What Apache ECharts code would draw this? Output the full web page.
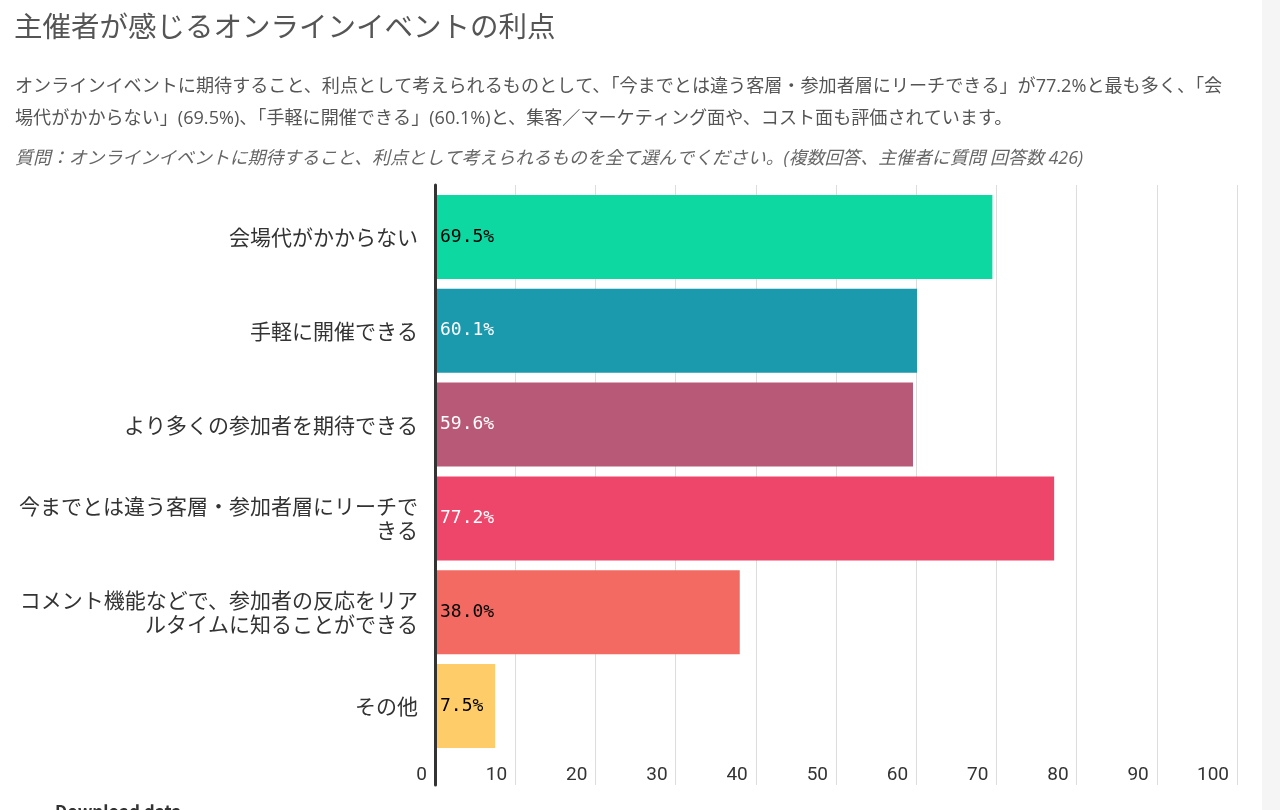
<!DOCTYPE html>
<html><head><meta charset="utf-8">
<script src="https://cdn.jsdelivr.net/npm/echarts@6/dist/echarts.min.js"></script>
<style>html,body{margin:0;padding:0;background:#fff}#c{width:1280px;height:810px}</style>
</head><body><div id="c"></div>
<script>
const titleText = '主催者が感じるオンラインイベントの利点';
const descLines = [
  'オンラインイベントに期待すること、利点として考えられるものとして、「今までとは違う客層・参加者層にリーチできる」が77.2%と最も多く、「会',
  '場代がかからない」(69.5%)、「手軽に開催できる」(60.1%)と、集客／マーケティング面や、コスト面も評価されています。'
];
const noteText = '質問：オンラインイベントに期待すること、利点として考えられるものを全て選んでください。(複数回答、主催者に質問 回答数 426)';
const footerText = 'Download data';
const categories = [
  '会場代がかからない',
  '手軽に開催できる',
  'より多くの参加者を期待できる',
  '今までとは違う客層・参加者層にリーチで\nきる',
  'コメント機能などで、参加者の反応をリア\nルタイムに知ることができる',
  'その他'
];
const values = [69.5, 60.1, 59.6, 77.2, 38.0, 7.5];
const barColors = ['#0ed8a1', '#1b99ad', '#b85a77', '#ee456b', '#f36a63', '#fecd69'];
const labelColors = ['#000000', '#ffffff', '#ffffff', '#ffffff', '#000000', '#000000'];
const axisMin = 0, axisMax = 100, axisStep = 10;

const chart = echarts.init(document.getElementById('c'));
const jp = '"Noto Sans CJK JP", "Noto Sans", sans-serif';
const jpLatin = '"Open Sans", "Noto Sans CJK JP", sans-serif';
chart.setOption({
  animation: false,
  backgroundColor: '#ffffff',
  title: [
    { text: titleText, left: 14, top: 12, padding: 0, textStyle: { fontFamily: jp, fontSize: 28.5, fontWeight: 'normal', color: '#555' } },
    { text: descLines.join('\n'), left: 15, top: 71, padding: 0, textStyle: { fontFamily: jpLatin, fontSize: 18.1, fontWeight: 'normal', color: '#555', lineHeight: 32 } },
    { text: noteText, left: 15, top: 150, padding: 0, textStyle: { fontFamily: jpLatin, fontSize: 17.9, fontStyle: 'italic', fontWeight: 'normal', color: '#666' } },
    { text: footerText, left: 55, top: 803, padding: 0, textStyle: { fontFamily: jp, fontSize: 17, fontWeight: 'bold', color: '#333' } }
  ],
  graphic: [
    { type: 'rect', right: 0, top: 0, shape: { width: 18, height: 810 }, style: { fill: '#f5f5f5' } }
  ],
  grid: [
    { left: 435, right: 43, top: 190, height: 563 },
    { left: 435, right: 43, top: 185, bottom: 25 }
  ],
  xAxis: [
    { gridIndex: 0, type: 'value', min: axisMin, max: axisMax, show: false },
    { gridIndex: 1, type: 'value', min: axisMin, max: axisMax, interval: axisStep,
      axisLine: { show: false }, axisTick: { show: false },
      splitLine: { show: true, lineStyle: { color: '#dddddd', width: 1 } },
      axisLabel: { inside: true, margin: 0, align: 'right', padding: [0, 8, 0, 0],
        fontFamily: 'Roboto, sans-serif', fontSize: 19, color: '#333' } }
  ],
  yAxis: [
    { gridIndex: 0, type: 'category', data: categories, inverse: true,
      axisLine: { show: false }, axisTick: { show: false },
      axisLabel: { margin: 17, fontFamily: jp, fontSize: 21, fontWeight: 'normal', color: '#333', lineHeight: 24, align: 'right' } },
    { gridIndex: 1, type: 'value', min: 0, max: 1, z: 10,
      axisLine: { show: true, lineStyle: { color: '#333', width: 3 } },
      axisTick: { show: false }, axisLabel: { show: false }, splitLine: { show: false } }
  ],
  series: [
    { type: 'bar', xAxisIndex: 0, yAxisIndex: 0, barWidth: 84,
      data: values.map((v, i) => ({ value: v, itemStyle: { color: barColors[i] },
        label: { color: labelColors[i] } })),
      label: { show: true, position: 'insideLeft', distance: 5,
        fontFamily: '"DejaVu Sans Mono", monospace', fontSize: 18,
        formatter: p => p.value.toFixed(1) + '%' } },
    { type: 'scatter', xAxisIndex: 1, yAxisIndex: 1, data: [] }
  ]
});
</script></body></html>
